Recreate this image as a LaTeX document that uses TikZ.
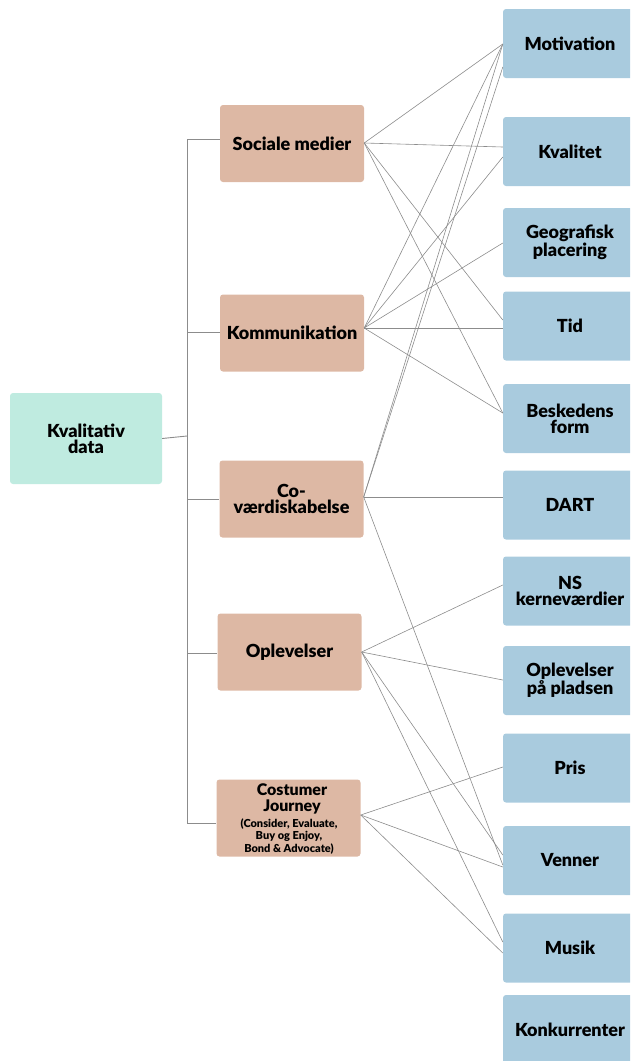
\documentclass[tikz,border=0pt]{standalone}
\usepackage{fontspec}
\setmainfont{Lato}[BoldFont={Lato Black}]
\definecolor{rootgreen}{HTML}{BFEBE0}
\definecolor{midtan}{HTML}{DDB8A4}
\definecolor{leafblue}{HTML}{A9CBDE}
\definecolor{linkgray}{HTML}{8C8C8C}
\begin{document}
\begin{tikzpicture}[x=1pt,y=-1pt,
	box/.style={rounded corners=3pt,align=center,inner sep=2pt,font=\bfseries\fontsize{18}{16}\selectfont},
	root/.style={box,fill=rootgreen,minimum width=152pt,minimum height=91pt},
	mid/.style={box,fill=midtan,minimum width=144pt,minimum height=77pt},
	leaf/.style={box,fill=leafblue,minimum width=134pt,minimum height=69pt},
	link/.style={draw=linkgray,line width=0.6pt},
	tree/.style={draw=linkgray,line width=0.9pt}]
	\useasboundingbox (0,0) rectangle (630,1061);
	\clip (0,0) rectangle (630,1061);

	% right column
	\node[leaf] (mot) at (570,43.5) {Motivation};
	\node[leaf] (kva) at (570,151.5) {Kvalitet};
	\node[leaf] (geo) at (570,242.5) {Geografisk\\placering};
	\node[leaf] (tid) at (570,326) {Tid};
	\node[leaf] (bes) at (570,418.5) {Beskedens\\form};
	\node[leaf] (dart) at (570,505) {DART};
	\node[leaf] (ns) at (570,591) {NS\\kerneværdier};
	\node[leaf] (opp) at (570,680.5) {Oplevelser\\på pladsen};
	\node[leaf] (pris) at (570,768) {Pris};
	\node[leaf] (ven) at (570,860.5) {Venner};
	\node[leaf] (mus) at (570,948) {Musik};
	\node[leaf] (kon) at (570,1029.5) {Konkurrenter};

	% middle column
	\node[mid] (sm) at (292,143.5) {Sociale medier};
	\node[mid] (kom) at (292,333) {Kommunikation};
	\node[mid] (co) at (291.5,499) {Co-\\værdiskabelse};
	\node[mid] (opl) at (289.5,652) {Oplevelser};
	\node[mid] (cj) at (288.5,818) {};
	\node[font=\bfseries\fontsize{16}{16.5}\selectfont,align=center,inner sep=0pt] (cjt) at (292,799) {Costumer\\Journey};
	\node[font=\bfseries\fontsize{11}{12.5}\selectfont,align=center,inner sep=0pt] (cjs) at (289,836.5) {(Consider, Evaluate,\\Buy og Enjoy,\\Bond \& Advocate)};

	% root
	\node[root] (kd) at (86,438.5) {Kvalitativ\\data};
	\coordinate (trunk) at (187,436);

	\draw[tree] (kd.east) -- (trunk);
	\foreach \n/\y in {sm/139,kom/332,co/499,opl/653,cj/823}
		\draw[tree] (trunk) |- (\n.west |- 0,\y);

	% links
	\path (sm.east |- 0,143)
		edge[link] (mot.west |- 0,44)
		edge[link] (kva.west |- 0,147)
		edge[link] (tid.west |- 0,320)
		edge[link] (bes.west |- 0,413);
	\path (kom.east |- 0,328)
		edge[link] (mot.west |- 0,44)
		edge[link] (kva.west |- 0,157)
		edge[link] (geo.west |- 0,243)
		edge[link] (tid.west |- 0,328)
		edge[link] (bes.west |- 0,413);
	\path (co.east |- 0,497)
		edge[link] (mot.west |- 0,44)
		edge[link] (mot.west |- 0,67)
		edge[link] (dart.west |- 0,497)
		edge[link] (ven.west |- 0,865);
	\path (opl.east |- 0,652)
		edge[link] (ns.west |- 0,585)
		edge[link] (opp.west |- 0,680)
		edge[link] (ven.west |- 0,855)
		edge[link] (mus.west |- 0,942);
	\path (cj.east |- 0,815)
		edge[link] (pris.west |- 0,767)
		edge[link] (ven.west |- 0,867)
		edge[link] (mus.west |- 0,953);
\end{tikzpicture}
\end{document}
